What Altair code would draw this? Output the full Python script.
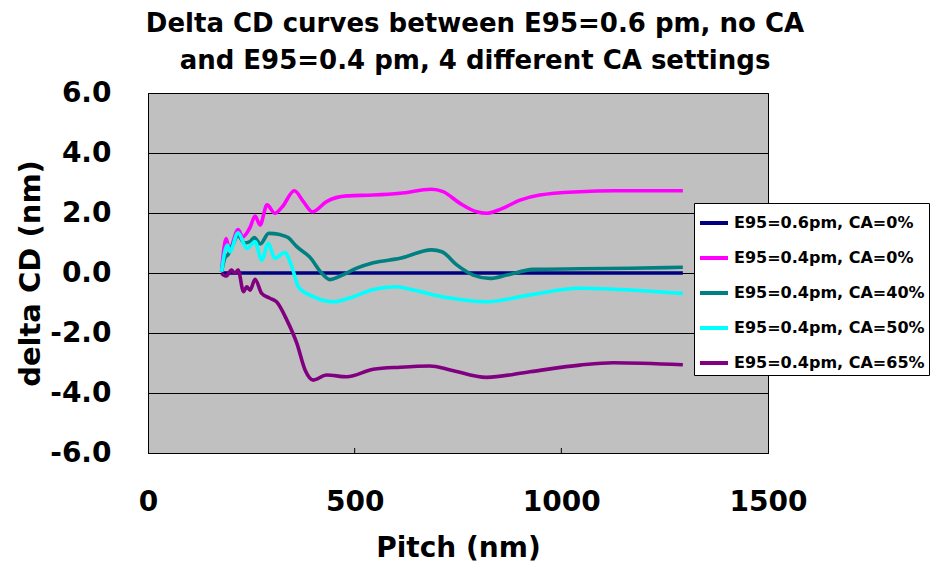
import altair as alt
import pandas as pd

series_names = [
    "E95=0.6pm, CA=0%",
    "E95=0.4pm, CA=0%",
    "E95=0.4pm, CA=40%",
    "E95=0.4pm, CA=50%",
    "E95=0.4pm, CA=65%",
]
series_colors = ["#000080", "#FF00FF", "#008080", "#00FFFF", "#800080"]

navy_pitch = [178, 300, 500, 700, 900, 1100, 1294]
navy_cd = [0.0, 0.0, 0.0, 0.0, 0.0, 0.0, 0.0]

mag_pitch = [178, 189, 197, 218, 229, 247, 259, 271, 288, 307, 325, 354, 376, 398, 432, 481, 545,
             610, 686, 714, 755, 795, 819, 852, 900, 948, 1045, 1126, 1294]
mag_cd = [0.04, 1.15, 0.78, 1.45, 1.2, 1.52, 1.9, 1.6, 2.27, 1.99, 2.21, 2.74, 2.38, 2.04, 2.38, 2.57, 2.6,
          2.66, 2.79, 2.71, 2.32, 2.04, 1.99, 2.12, 2.43, 2.6, 2.71, 2.74, 2.74]

teal_pitch = [178, 186, 194, 205, 218, 233, 247, 257, 272, 292, 319, 339, 360, 392, 420, 440, 465,
              505, 545, 610, 686, 711, 747, 787, 827, 868, 932, 1045, 1166, 1294]
teal_cd = [0.04, 0.5, 0.62, 0.95, 1.25, 1.0, 1.05, 1.18, 0.97, 1.32, 1.28, 1.18, 0.88, 0.52, 0.0, -0.22, -0.1,
           0.16, 0.34, 0.49, 0.77, 0.71, 0.27, -0.07, -0.18, -0.07, 0.12, 0.14, 0.16, 0.19]

cyan_pitch = [178, 192, 198, 218, 239, 259, 275, 291, 307, 331, 348, 364, 400, 448, 497, 545, 600,
              642, 723, 819, 924, 1045, 1126, 1294]
cyan_cd = [0.04, 0.93, 0.71, 1.34, 0.82, 1.04, 0.43, 0.99, 0.49, 0.68, 0.21, -0.46, -0.79, -0.96, -0.79, -0.55, -0.46,
           -0.57, -0.82, -0.96, -0.73, -0.51, -0.54, -0.68]

purple_pitch = [178, 189, 202, 210, 218, 231, 239, 247, 259, 275, 295, 311, 336, 360, 380, 400, 432,
                481, 545, 610, 682, 731, 819, 924, 1045, 1126, 1294]
purple_cd = [-0.01, -0.1, 0.1, -0.01, 0.1, -0.62, -0.46, -0.57, -0.21, -0.68, -0.84, -0.96, -1.57, -2.34, -3.23, -3.57, -3.4,
             -3.46, -3.21, -3.14, -3.1, -3.23, -3.48, -3.29, -3.07, -2.99, -3.06]

y_ticks = [-6, -4, -2, 0, 2, 4, 6]
x_ticks = [0, 500, 1000, 1500]

all_pitch = [navy_pitch, mag_pitch, teal_pitch, cyan_pitch, purple_pitch]
all_cd = [navy_cd, mag_cd, teal_cd, cyan_cd, purple_cd]

rows = []
for order, (name, px, cd) in enumerate(zip(series_names, all_pitch, all_cd)):
    for p, v in zip(px, cd):
        rows.append({"series": name, "order": order, "pitch": p, "cd": v})
df = pd.DataFrame(rows)

FONT = "DejaVu Sans"

x_scale = alt.Scale(domain=[0, 1500], nice=False)
y_scale = alt.Scale(domain=[-6, 6], nice=False)

lines = alt.Chart(df).mark_line(interpolate="monotone", strokeWidth=3.6).encode(
    x=alt.X("pitch:Q", title="Pitch (nm)", scale=x_scale,
            axis=alt.Axis(values=x_ticks, format="d", grid=False, ticks=False, labelFontSize=28,
                          labelFont=FONT, labelFontWeight="bold", labelColor="black",
                          labelPadding=35, titleFontSize=28, titleFont=FONT,
                          titleFontWeight="bold", titleColor="black", titlePadding=18,
                          domainColor="black", labelFlush=False)),
    y=alt.Y("cd:Q", title="delta CD (nm)", scale=y_scale,
            axis=alt.Axis(values=y_ticks,
                          labelExpr="replace(format(datum.value, '.1f'), '\u2212', '-')",
                          grid=True, gridColor="black",
                          gridWidth=1, ticks=False, labelFontSize=28, labelFont=FONT,
                          labelFontWeight="bold", labelColor="black", labelPadding=37,
                          titleFontSize=29, titleFont=FONT, titleFontWeight="bold",
                          titleColor="black", titlePadding=4, domainColor="black")),
    color=alt.Color("series:N",
                    scale=alt.Scale(domain=series_names, range=series_colors),
                    legend=alt.Legend(title=None, orient="none", legendX=546, legendY=110,
                                      symbolType="stroke", symbolSize=784, symbolStrokeWidth=4,
                                      labelFont=FONT, labelFontWeight="bold", labelFontSize=16,
                                      labelColor="black", labelOffset=4, rowPadding=11,
                                      padding=4, strokeColor="black", fillColor="white",
                                      labelLimit=400)),
    order=alt.Order("order:Q"),
    detail="series:N",
)

tick_df = pd.DataFrame({"tick": x_ticks[1:-1]})
inner_ticks = alt.Chart(tick_df).mark_rule(color="black", strokeWidth=1).encode(
    x=alt.X("tick:Q", scale=x_scale),
    y=alt.value(360),
    y2=alt.value(355),
)

chart = alt.layer(lines, inner_ticks).properties(
    width=620,
    height=360,
    background="white",
    title=alt.TitleParams(
        text=["Delta CD curves between E95=0.6 pm, no CA",
              "and E95=0.4 pm, 4 different CA settings"],
        font=FONT, fontSize=26, fontWeight="bold", color="black",
        anchor="middle", lineHeight=37, offset=5, dx=17),
    autosize=alt.AutoSizeParams(type="none"),
    padding={"left": 148, "top": 93, "right": 168, "bottom": 112},
).configure_view(
    fill="#C0C0C0", stroke="black", strokeWidth=1
)

chart.save("out.html", embed_options={"renderer": "svg", "actions": False})
